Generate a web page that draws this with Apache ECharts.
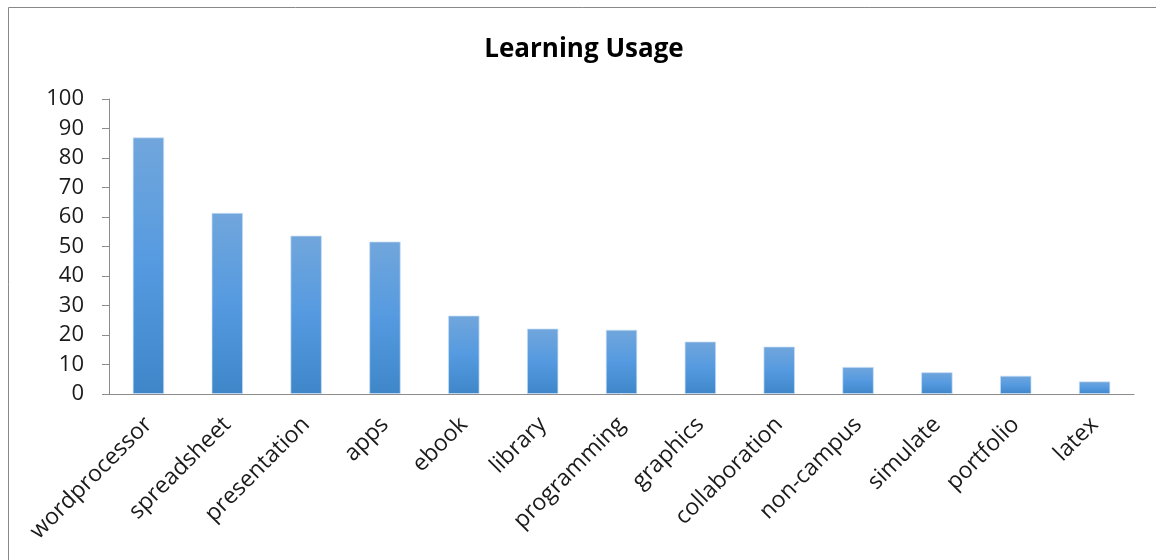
<!DOCTYPE html>
<html>
<head>
<meta charset="utf-8">
<title>Learning Usage</title>
<script src="https://cdn.jsdelivr.net/npm/echarts@6/dist/echarts.min.js"></script>
<style>
  html, body { margin: 0; padding: 0; background: #fff; }
  #chart { width: 1156px; height: 560px; }
</style>
</head>
<body>
<div id="chart"></div>
<script>
var categories = ['wordprocessor', 'spreadsheet', 'presentation', 'apps', 'ebook', 'library',
  'programming', 'graphics', 'collaboration', 'non-campus', 'simulate', 'portfolio', 'latex'];
var usage = [87.0, 61.4, 53.7, 51.7, 26.6, 22.2, 21.8, 17.8, 16.1, 9.2, 7.4, 6.2, 4.3];
var yTicks = { min: 0, max: 100, interval: 10 };

var font = '"Open Sans", sans-serif';
var axisGray = '#8c8c8c';

var myChart = echarts.init(document.getElementById('chart'));
myChart.setOption({
  animation: false,
  title: {
    text: 'Learning Usage',
    left: 579,
    top: 32,
    textAlign: 'center',
    textStyle: { fontFamily: font, fontSize: 26, fontWeight: 'bold', color: '#000' }
  },
  grid: { left: 109, right: 22, top: 99, bottom: 166 },
  graphic: [{
    type: 'rect',
    shape: { x: 8.5, y: 7.5, width: 1200, height: 600 },
    style: { fill: 'none', stroke: '#888', lineWidth: 1 },
    silent: true
  }],
  xAxis: {
    type: 'category',
    data: categories,
    axisLine: { lineStyle: { color: axisGray, width: 1 } },
    axisTick: { length: 8, lineStyle: { color: axisGray } },
    axisLabel: { rotate: 45, interval: 0, margin: 27, fontFamily: font, fontSize: 23, color: '#1a1a1a' }
  },
  yAxis: {
    type: 'value',
    min: yTicks.min,
    max: yTicks.max,
    interval: yTicks.interval,
    splitLine: { show: false },
    axisLine: { show: true, lineStyle: { color: axisGray, width: 1 } },
    axisTick: { show: true, length: 7, lineStyle: { color: axisGray } },
    axisLabel: { margin: 25, fontFamily: font, fontSize: 22, color: '#1a1a1a' }
  },
  series: [{
    type: 'bar',
    data: usage,
    barWidth: '40%',
    itemStyle: {
      color: new echarts.graphic.LinearGradient(0, 0, 0, 1, [
        { offset: 0, color: '#71a6dc' },
        { offset: 0.5, color: '#559ae0' },
        { offset: 1, color: '#3f86c9' }
      ]),
      borderColor: 'rgba(200,222,245,0.7)',
      borderWidth: 1
    }
  }]
});
</script>
</body>
</html>
